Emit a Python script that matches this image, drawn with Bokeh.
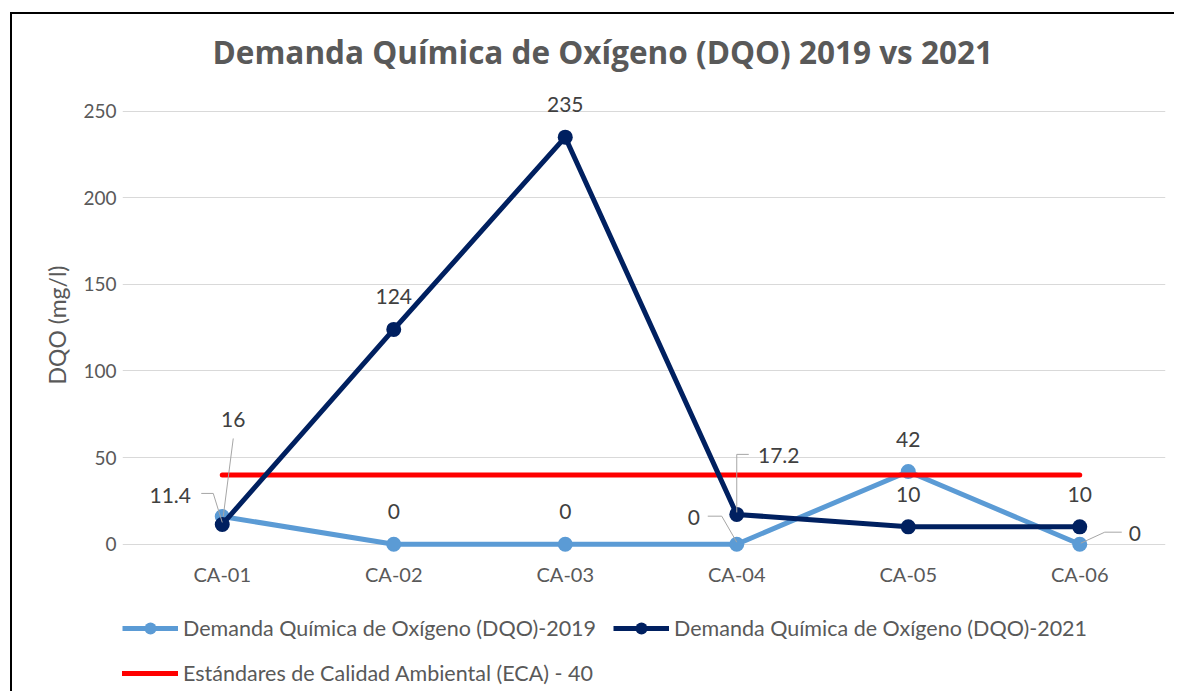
import numpy as np
from bokeh.plotting import figure
from bokeh.layouts import column
from bokeh.models import (Range1d, FixedTicker, Legend, LegendItem, ColumnDataSource)
from bokeh.core.properties import value
from bokeh.embed import file_html
from bokeh.resources import INLINE

# ---------------- data ----------------
TITLE = "Demanda Química de Oxígeno (DQO) 2019 vs 2021"
Y_LABEL = "DQO (mg/l)"
categories = ["CA-01", "CA-02", "CA-03", "CA-04", "CA-05", "CA-06"]
dqo_2019 = [16, 0, 0, 0, 42, 0]
dqo_2021 = [11.4, 124, 235, 17.2, 10, 10]
eca = [40, 40, 40, 40, 40, 40]
label_2019 = ["16", "0", "0", "0", "42", "0"]
label_2021 = ["11.4", "124", "235", "17.2", "10", "10"]
y_ticks = [0, 50, 100, 150, 200, 250]
name_2019 = "Demanda Química de Oxígeno (DQO)-2019"
name_2021 = "Demanda Química de Oxígeno (DQO)-2021"
name_eca = "Estándares de Calidad Ambiental (ECA) - 40"

# ---------------- layout / style ----------------
W = 1174
H1, H2 = 600, 91                   # chart part / legend part
FL, FR, FT = 122, 9, 88
FRAME_H = 473
FB = H1 - FT - FRAME_H
GRID_W = 1029                      # width spanned by the category slots
EXTRA_L = 14                       # frame extends this far left of the grid
PX_PER_UNIT_Y = 433 / 250.0
Y0 = -10.0
Y1 = Y0 + FRAME_H / PX_PER_UNIT_Y
PXX = len(categories) / GRID_W     # data units per px (x)
PXY = 1.0 / PX_PER_UNIT_Y          # data units per px (y)
X0 = -0.5 - EXTRA_L * PXX
X1 = len(categories) - 0.5

C2019 = "#5B9BD5"
C2021 = "#002060"
CECA = "#FF0000"
TXT = "#595959"
LBL = "#404040"
FONT = "Lato"

# label offsets in px (dx right, dy down) relative to each point
off_2019 = [(11, -97), (0, -33), (0, -33), (-43, -27), (0, -32), (55, -11)]
off_2021 = [(-52, -29), (0, -33), (0, -33), (42, -59), (0, -32), (0, -32)]
# leader lines in px relative to point (None = no leader)
lead_2019 = [[(11, -78), (1, 0)], None, None, [(-29, -28), (-15, -28), (0, -2)],
             None, [(1, -1), (25, -12), (42, -12)]]
lead_2021 = [[(-21, -31), (-9, -31), (0, -2)], None, None,
             [(12, -60), (0, -60), (0, -2)], None, None]

idx = list(range(len(categories)))

p = figure(width=W, height=H1, x_range=Range1d(X0, X1), y_range=Range1d(Y0, Y1),
           output_backend="svg", toolbar_location=None,
           min_border_left=FL, min_border_right=FR, min_border_top=FT,
           min_border_bottom=FB)
# thin outer chart border (top and left edges visible in the crop)
p.styles = {"box-shadow": "inset 10px 12px 0 0 white, inset 12px 14px 0 0 black"}
p.outline_line_color = None
p.background_fill_color = "white"
p.border_fill_alpha = 0

# title
p.title.text = TITLE
p.title.text_font = "Open Sans"
p.title.text_font_size = "31.5px"
p.title.text_font_style = "bold"
p.title.text_color = TXT
p.title.align = "left"
p.title.offset = 90
p.title.standoff = 32

# axes
p.yaxis.ticker = FixedTicker(ticks=y_ticks)
p.ygrid.ticker = FixedTicker(ticks=y_ticks)
p.ygrid.bounds = (-0.5, len(categories) - 0.5)
p.xaxis.ticker = FixedTicker(ticks=idx)
p.xaxis.major_label_overrides = {i: c for i, c in zip(idx, categories)}
for ax in (p.xaxis, p.yaxis):
    ax.axis_line_color = None
    ax.major_tick_line_color = None
    ax.minor_tick_line_color = None
    ax.major_tick_out = 0
    ax.major_tick_in = 0
    ax.major_label_text_font = FONT
    ax.major_label_text_color = TXT
p.yaxis.major_label_text_font_size = "19px"
p.xaxis.major_label_text_font_size = "20px"
p.yaxis.major_label_standoff = 6
p.xaxis.major_label_standoff = 0
p.yaxis.axis_label = Y_LABEL
p.yaxis.axis_label_text_font = FONT
p.yaxis.axis_label_text_font_size = "23px"
p.yaxis.axis_label_text_font_style = "normal"
p.yaxis.axis_label_text_color = TXT
p.yaxis.axis_label_standoff = 9
p.xgrid.visible = False
p.ygrid.grid_line_color = "#D9D9D9"
p.ygrid.grid_line_width = 1

# series
STY19 = dict(line_color=C2019, line_width=5, line_join="round")
STY21 = dict(line_color=C2021, line_width=5, line_join="round")
STYEC = dict(line_color=CECA, line_width=5, line_cap="round")
MK19 = dict(size=15, fill_color=C2019, line_color=None)
MK21 = dict(size=15, fill_color=C2021, line_color=None)

p.line(idx, dqo_2019, **STY19)
p.scatter(idx, dqo_2019, **MK19)
p.line(idx, eca, **STYEC)
p.line(idx, dqo_2021, **STY21)
p.scatter(idx, dqo_2021, **MK21)

# data labels + leader lines
def add_labels(vals, labels, offs, leads):
    xs, ys = [], []
    lx, ly = [], []
    for i, (v, (dx, dy), ld) in enumerate(zip(vals, offs, leads)):
        xs.append(i + dx * PXX)
        ys.append(v - dy * PXY)
        if ld is not None:
            lx.append([i + a * PXX for a, b in ld])
            ly.append([v - b * PXY for a, b in ld])
    src = ColumnDataSource(dict(x=xs, y=ys, t=labels))
    p.text(x="x", y="y", text="t", source=src, text_align="center",
           text_baseline="middle", text_font=value(FONT),
           text_font_size="21px", text_color=LBL)
    if lx:
        p.multi_line(lx, ly, line_color="#A6A6A6", line_width=1)

add_labels(dqo_2019, label_2019, off_2019, lead_2019)
add_labels(dqo_2021, label_2021, off_2021, lead_2021)

# ---------------- legend strip below the chart ----------------
# (its frame is aligned with the chart frame by the column layout; the
#  series are drawn outside its visible range so only the legend shows)
p2 = figure(width=W, height=H2, x_range=Range1d(100, 101),
            y_range=Range1d(1000, 1001),
            output_backend="svg", toolbar_location=None, min_border=0,
            x_axis_type=None, y_axis_type=None, title=None)
p2.styles = {"box-shadow": "inset 10px 0 0 0 white, inset 12px 0 0 0 black"}
p2.outline_line_color = None
p2.background_fill_color = "white"
p2.border_fill_alpha = 0
p2.xgrid.visible = False
p2.ygrid.visible = False

g19 = [p2.line(idx, dqo_2019, **STY19), p2.scatter(idx, dqo_2019, **MK19)]
g21 = [p2.line(idx, dqo_2021, **STY21), p2.scatter(idx, dqo_2021, **MK21)]
gec = [p2.line(idx, eca, **STYEC)]

legend = Legend(items=[LegendItem(label=name_2019, renderers=g19),
                       LegendItem(label=name_2021, renderers=g21),
                       LegendItem(label=name_eca, renderers=gec)],
                location=(0, 3), orientation="horizontal", ncols=2,
                glyph_width=56, glyph_height=30, label_height=30,
                label_width=415, label_standoff=5, spacing=15,
                padding=0, margin=0, border_line_color=None,
                background_fill_alpha=0, label_text_font=FONT,
                label_text_font_size="21.5px", label_text_color=TXT)
p2.add_layout(legend, "center")

layout = column(p, p2, spacing=0)
open("out.html", "w").write(file_html(layout, INLINE))
